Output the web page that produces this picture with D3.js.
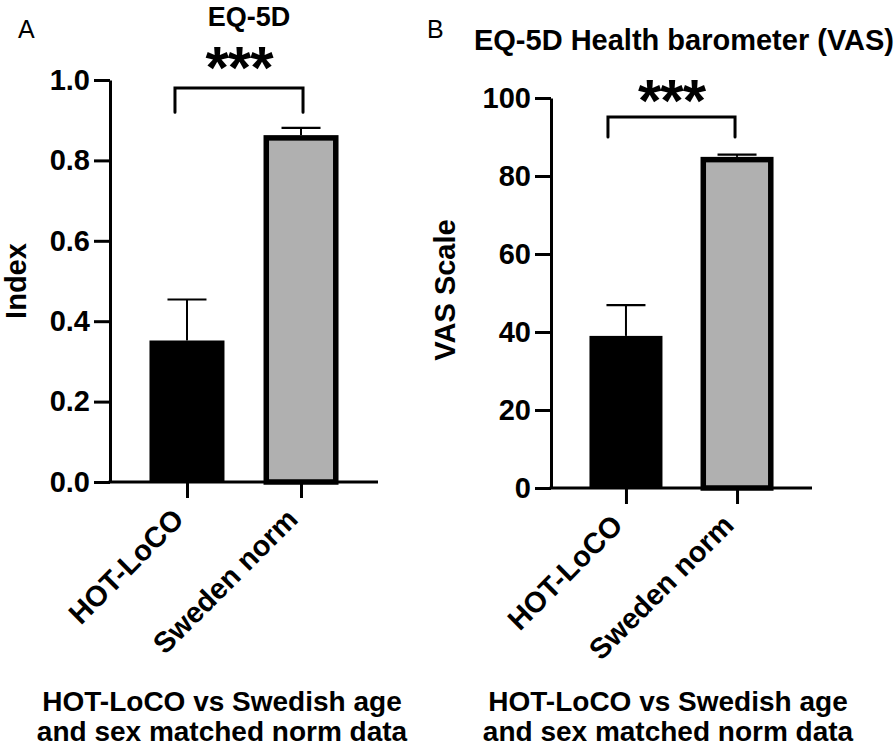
<!DOCTYPE html>
<html>
<head>
<meta charset="utf-8">
<script src="https://cdn.jsdelivr.net/npm/d3@7"></script>
<style>
  html, body { margin: 0; padding: 0; background: #fff; }
  svg { display: block; }
  text { font-family: "Liberation Sans", Arial, Helvetica, sans-serif; fill: #000; }
</style>
</head>
<body>
<svg id="chart" width="896" height="748"></svg>
<script>
// ---------- data ----------
const categories = ["HOT-LoCO", "Sweden norm"];
const eqIndexMeans = [0.352, 0.856];
const eqIndexErrors = [0.102, 0.025];
const eqIndexTicks = [0, 0.2, 0.4, 0.6, 0.8, 1.0];
const eqIndexBracket = [0.98, 0.92];   // bracket top, leg bottom
const vasMeans = [39.0, 84.2];
const vasErrors = [7.9, 1.3];
const vasTicks = [0, 20, 40, 60, 80, 100];
const vasBracket = [95.1, 90.0];
const significance = "***";
const footerLines = ["HOT-LoCO vs Swedish age", "and sex matched norm data"];
const barFills = ["#000000", "#b0b0b0"];

// ---------- panel layout ----------
const panels = [
  {
    letter: "A", letterX: 18, letterY: 38,
    title: "EQ-5D", titleX: 249, titleY: 25.5, titleSize: 27,
    yLabel: "Index", yLabelX: 26, yLabelY: 281,
    left: 110, right: 378, top: 80, bottom: 482,
    domain: [0, 1], ticks: eqIndexTicks, fmt: d3.format(".1f"),
    means: eqIndexMeans, errors: eqIndexErrors, bracket: eqIndexBracket,
    barW: 75, starGap: 26, footerX: 222, bracketLeftOff: -12, bracketRightOff: 2
  },
  {
    letter: "B", letterX: 427, letterY: 38,
    title: "EQ-5D Health barometer (VAS)", titleX: 684, titleY: 50, titleSize: 29,
    yLabel: "VAS Scale", yLabelX: 455, yLabelY: 290,
    left: 551, right: 812, top: 98, bottom: 488,
    domain: [0, 100], ticks: vasTicks, fmt: d3.format("d"),
    means: vasMeans, errors: vasErrors, bracket: vasBracket,
    barW: 73, starGap: 22, footerX: 668, bracketLeftOff: -18, bracketRightOff: -2
  }
];

const svg = d3.select("#chart");
const grayStroke = 5.5;

panels.forEach(p => {
  const g = svg.append("g");
  const x = d3.scalePoint().domain(categories).range([p.left, p.right]).padding(0.675);
  const y = d3.scaleLinear().domain(p.domain).range([p.bottom, p.top]);

  // bars
  categories.forEach((c, i) => {
    const cx = x(c);
    const m = p.means[i];
    if (i === 0) {
      g.append("rect")
        .attr("x", cx - p.barW / 2).attr("width", p.barW)
        .attr("y", y(m)).attr("height", y(0) - y(m))
        .attr("fill", barFills[i]);
    } else {
      g.append("rect")
        .attr("x", cx - p.barW / 2 + grayStroke / 2).attr("width", p.barW - grayStroke)
        .attr("y", y(m)).attr("height", y(0) - y(m))
        .attr("fill", barFills[i]).attr("stroke", "#000").attr("stroke-width", grayStroke);
    }
    // error bar (upper)
    const startY = i === 0 ? y(m) : y(m) - grayStroke / 2;
    const topY = y(m + p.errors[i]);
    g.append("line").attr("x1", cx).attr("x2", cx).attr("y1", startY).attr("y2", topY)
      .attr("stroke", "#000").attr("stroke-width", 2);
    g.append("line").attr("x1", cx - 19.5).attr("x2", cx + 19.5).attr("y1", topY).attr("y2", topY)
      .attr("stroke", "#000").attr("stroke-width", 2.2);
  });

  // axes
  const yAxis = d3.axisLeft(y).tickValues(p.ticks).tickFormat(p.fmt)
    .tickSize(16).tickSizeOuter(0).tickPadding(4);
  const ya = g.append("g").attr("transform", `translate(${p.left},0)`).call(yAxis);
  ya.select(".domain").attr("stroke-width", 3).attr("stroke", "#000");
  ya.selectAll(".tick line").attr("stroke-width", 3).attr("stroke", "#000");
  ya.selectAll(".tick text").attr("font-size", 29).attr("font-weight", "bold")
    .attr("font-family", "'Liberation Sans', Arial, sans-serif").attr("fill", "#000");

  const xAxis = d3.axisBottom(x).tickSize(16).tickSizeOuter(0);
  const xa = g.append("g").attr("transform", `translate(0,${p.bottom})`).call(xAxis);
  xa.select(".domain").attr("stroke-width", 3).attr("stroke", "#000")
    .attr("d", `M${p.left - 1.5},0H${p.right}`);
  xa.selectAll(".tick line").attr("stroke-width", 3).attr("stroke", "#000");
  xa.selectAll(".tick text")
    .attr("y", 0).attr("x", 0).attr("dy", null)
    .attr("text-anchor", "end")
    .attr("transform", "translate(-2,39) rotate(-45)")
    .attr("font-size", 29).attr("font-weight", "bold")
    .attr("font-family", "'Liberation Sans', Arial, sans-serif").attr("fill", "#000");

  // significance bracket
  const bl = x(categories[0]) + p.bracketLeftOff;
  const br = x(categories[1]) + p.bracketRightOff;
  const bt = y(p.bracket[0]);
  const bb = y(p.bracket[1]);
  g.append("path")
    .attr("d", `M${bl},${bb}V${bt}H${br}V${bb}`)
    .attr("fill", "none").attr("stroke", "#000").attr("stroke-width", 3)
    .attr("stroke-linecap", "round").attr("stroke-linejoin", "miter");
  g.append("text")
    .attr("x", (bl + br) / 2).attr("y", bt - p.starGap + 26)
    .attr("text-anchor", "middle")
    .attr("font-size", 60).attr("font-weight", "bold").attr("letter-spacing", -1)
    .text(significance);

  // titles and labels
  g.append("text").attr("x", p.titleX).attr("y", p.titleY)
    .attr("text-anchor", "middle").attr("font-size", p.titleSize).attr("font-weight", "bold")
    .text(p.title);
  g.append("text").attr("x", p.letterX).attr("y", p.letterY)
    .attr("font-size", 25).text(p.letter);
  g.append("text")
    .attr("transform", `translate(${p.yLabelX},${p.yLabelY}) rotate(-90)`)
    .attr("text-anchor", "middle").attr("font-size", 29).attr("font-weight", "bold")
    .text(p.yLabel);
  footerLines.forEach((line, k) => {
    g.append("text").attr("x", p.footerX).attr("y", 711 + k * 30)
      .attr("text-anchor", "middle").attr("font-size", 28).attr("font-weight", "bold")
      .text(line);
  });
});
</script>
</body>
</html>
